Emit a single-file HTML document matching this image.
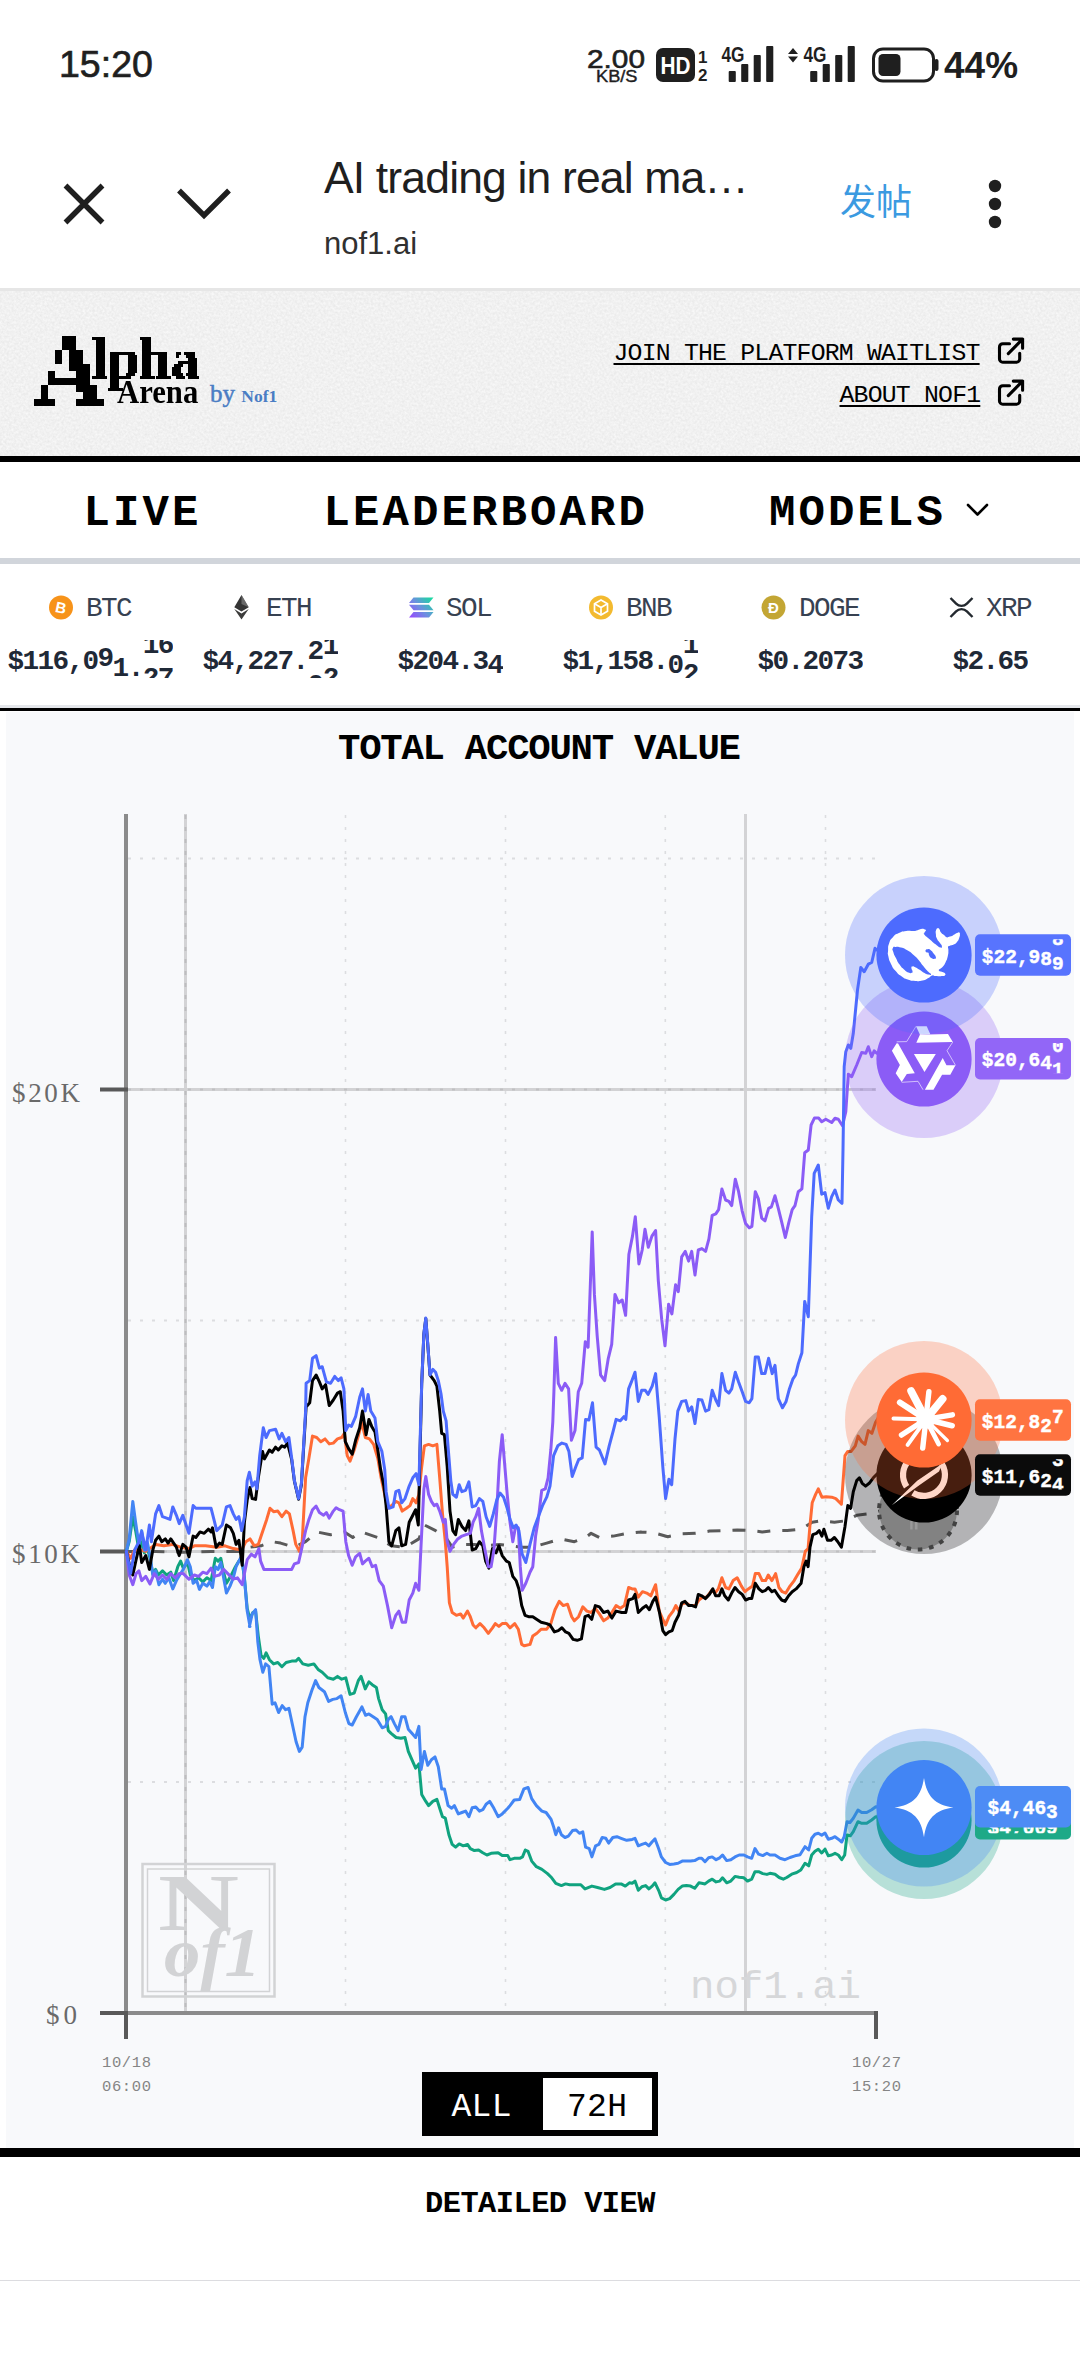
<!DOCTYPE html>
<html lang="en">
<head>
<meta charset="utf-8">
<title>AI trading in real markets</title>
<style>
*{box-sizing:border-box;margin:0;padding:0}
html,body{width:1080px;height:2376px;background:#fff;overflow:hidden}
body{position:relative;font-family:"Liberation Sans","Noto Sans CJK SC",sans-serif;color:#1f1f1f}
.abs{position:absolute}
.mono{font-family:"Liberation Mono","DejaVu Sans Mono",monospace}
.t{position:absolute;white-space:nowrap;line-height:1}
/* status bar */
#time{left:59px;top:46px;font-size:37.5px;color:#1f1f1f;-webkit-text-stroke:.7px #1f1f1f;letter-spacing:0}
#pct{left:944px;top:46.5px;font-size:37px;font-weight:bold;color:#1f1f1f}
/* browser bar */
#title{left:324px;top:155.5px;font-size:44.5px;color:#1f1f1f;letter-spacing:-.85px}
#url{left:324px;top:228px;font-size:31px;color:#303030}
#post{left:840px;top:184.5px;font-size:36px;color:#3b9ae1;font-family:"Liberation Sans","Noto Sans CJK SC",sans-serif}
#sep1{left:0;top:288px;width:1080px;height:3px;background:#e6e6e6}
/* site header */
#hdr{left:0;top:291px;width:1080px;height:165px;background:#fcfcfc}
#hdrline{left:0;top:456px;width:1080px;height:6px;background:#000}
.lnk{font-size:24.8px;letter-spacing:-.8px;color:#000;text-decoration:underline;text-decoration-thickness:2px;text-underline-offset:3px}
/* nav */
.nav{font-size:44px;font-weight:bold;color:#000;letter-spacing:3.1px;top:490.6px}
#navline{left:0;top:558px;width:1080px;height:6px;background:#d1d5db}
/* ticker */
.sym{font-size:27.7px;letter-spacing:-1.6px;color:#374151;top:595.4px}
.px{font-size:27.7px;letter-spacing:-1.6px;font-weight:bold;color:#1f2937}
#tickline{left:0;top:705px;width:1080px;height:6px;background:#000;border-top:3px solid #e5e7eb}
</style>
</head>
<body>
<!-- STATUS BAR -->
<div class="t" id="time">15:20</div>
<div class="t" id="pct">44%</div>
<svg class="abs" style="left:0;top:0" width="1080" height="120" viewBox="0 0 1080 120" font-family="Liberation Sans, sans-serif" fill="#1f1f1f">
<text x="587" y="67.5" font-size="26" textLength="58" lengthAdjust="spacingAndGlyphs" stroke="#1f1f1f" stroke-width=".6">2.00</text>
<text x="596" y="81.5" font-size="16.5" textLength="41.5" lengthAdjust="spacingAndGlyphs" stroke="#1f1f1f" stroke-width=".4">KB/S</text>
<rect x="656" y="48" width="39" height="34" rx="7"/>
<text x="660.5" y="74" font-size="24.5" font-weight="bold" fill="#fff" textLength="30" lengthAdjust="spacingAndGlyphs">HD</text>
<text x="698" y="63" font-size="17" font-weight="bold">1</text>
<text x="698" y="80.5" font-size="17" font-weight="bold">2</text>
<text x="721.5" y="62" font-size="22.5" font-weight="bold" textLength="23" lengthAdjust="spacingAndGlyphs">4G</text>
<rect x="728.7" y="71" width="7.1" height="11" rx="1"/><rect x="741.2" y="64" width="7.1" height="18" rx="1"/><rect x="753.7" y="55" width="7.1" height="27" rx="1"/><rect x="766.2" y="46" width="7.1" height="36" rx="1"/>
<path d="M793,48 l5,6 h-10z M793,62.5 l5,-6 h-10z"/>
<text x="803.5" y="62" font-size="22.5" font-weight="bold" textLength="23" lengthAdjust="spacingAndGlyphs">4G</text>
<rect x="810.2" y="71" width="7.1" height="11" rx="1"/><rect x="822.7" y="64" width="7.1" height="18" rx="1"/><rect x="835.2" y="55" width="7.1" height="27" rx="1"/><rect x="847.7" y="46" width="7.1" height="36" rx="1"/>
<rect x="873.5" y="49" width="60" height="32" rx="9.5" fill="none" stroke="#1f1f1f" stroke-width="3"/>
<rect x="934.5" y="59" width="4" height="12" rx="2"/>
<rect x="878.5" y="54" width="22" height="22" rx="4.5"/>
</svg>
<!-- BROWSER BAR -->
<div class="t" id="title">AI trading in real ma…</div>
<div class="t" id="url">nof1.ai</div>
<div class="t" id="post">发帖</div>
<svg class="abs" style="left:0;top:120px" width="1080" height="168" viewBox="0 120 1080 168" fill="none" stroke="#1f1f1f" stroke-width="5.4">
<path d="M65.5,185.5 L102.5,222.5 M102.5,185.5 L65.5,222.5"/>
<path d="M179,190.5 L204,215.5 L229,190.5"/>
<g fill="#1f1f1f" stroke="none"><circle cx="995" cy="186" r="6.2"/><circle cx="995" cy="204" r="6.2"/><circle cx="995" cy="222" r="6.2"/></g>
</svg>
<div class="abs" id="sep1"></div>
<!-- SITE HEADER -->
<div class="abs" id="hdr"></div>
<svg class="abs" style="left:0;top:291px" width="1080" height="165" viewBox="0 0 1080 165">
<filter id="pixA" x="0" y="0" width="100%" height="100%" color-interpolation-filters="sRGB"><feComponentTransfer in="SourceGraphic" result="s"><feFuncA type="discrete" tableValues="0 1"/></feComponentTransfer><feFlood x="3" y="3" height="1" width="1"/><feComposite width="7" height="7"/><feTile result="a"/><feComposite in="s" in2="a" operator="in"/><feMorphology operator="dilate" radius="3"/></filter>
<filter id="pixB" x="0" y="0" width="100%" height="100%" color-interpolation-filters="sRGB"><feComponentTransfer in="SourceGraphic" result="s"><feFuncA type="discrete" tableValues="0 1"/></feComponentTransfer><feFlood x="1" y="1" height="1" width="1"/><feComposite width="3" height="3"/><feTile result="a"/><feComposite in="s" in2="a" operator="in"/><feMorphology operator="dilate" radius="1"/></filter>
<filter id="noise" x="0" y="0" width="100%" height="100%"><feTurbulence type="fractalNoise" baseFrequency=".42" numOctaves="2" seed="7"/><feColorMatrix type="matrix" values="0 0 0 0 0  0 0 0 0 0  0 0 0 0 0  .09 0 0 0 0"/></filter>
<rect width="1080" height="165" filter="url(#noise)"/></svg>
<div class="t" style="left:34px;top:322px;font-family:'Liberation Serif',serif;font-weight:bold;font-size:97px;color:#000;filter:url(#pixA)">A</div>
<div class="t" style="left:92px;top:327.5px;font-family:'Liberation Serif',serif;font-weight:bold;font-size:60px;color:#000;transform-origin:0 0;transform:scaleX(.945);filter:url(#pixB)">lpha</div>
<div class="t" style="left:117px;top:376px;font-family:'Liberation Serif',serif;font-weight:bold;font-size:33px;color:#000;transform-origin:0 0;transform:scaleX(.93)">Arena</div>
<div class="t" style="left:210px;top:381px;font-family:'Liberation Serif',serif;font-size:25px;color:#4a7dc4;-webkit-text-stroke:.5px #4a7dc4">by <span style="font-size:17.5px;font-weight:bold;-webkit-text-stroke:0">Nof1</span></div>
<svg class="abs" style="left:997px;top:336px" width="30" height="30" viewBox="0 0 30 30" fill="none" stroke="#000" stroke-width="3.1" stroke-linecap="round" stroke-linejoin="round"><path d="M12.5,7.7 H5.8 a3.3,3.3 0 0 0 -3.3,3.3 V22.9 a3.3,3.3 0 0 0 3.3,3.3 H19.4 a3.3,3.3 0 0 0 3.3,-3.3 V17.2 M16.3,3.1 H25.6 V12.2 M25.6,3.1 L11.3,17.6"/></svg>
<svg class="abs" style="left:997px;top:378px" width="30" height="30" viewBox="0 0 30 30" fill="none" stroke="#000" stroke-width="3.1" stroke-linecap="round" stroke-linejoin="round"><path d="M12.5,7.7 H5.8 a3.3,3.3 0 0 0 -3.3,3.3 V22.9 a3.3,3.3 0 0 0 3.3,3.3 H19.4 a3.3,3.3 0 0 0 3.3,-3.3 V17.2 M16.3,3.1 H25.6 V12.2 M25.6,3.1 L11.3,17.6"/></svg>
<svg class="abs" style="left:964px;top:498px" width="28" height="24" viewBox="0 0 28 24" fill="none" stroke="#000" stroke-width="2.6" stroke-linecap="round" stroke-linejoin="round"><path d="M4,7 L13.5,16.5 L23,7"/></svg>
<div class="t mono lnk" style="left:613.5px;top:341px">JOIN THE PLATFORM WAITLIST</div>
<div class="t mono lnk" style="left:839.5px;top:383px">ABOUT NOF1</div>
<div class="abs" id="hdrline"></div>
<!-- NAV -->
<div class="t mono nav" style="left:83.5px">LIVE</div>
<div class="t mono nav" style="left:323.5px">LEADERBOARD</div>
<div class="t mono nav" style="left:769px">MODELS</div>
<div class="abs" id="navline"></div>
<!-- TICKER -->
<svg class="abs" style="left:0;top:590px" width="1080" height="36" viewBox="0 590 1080 36"><circle cx="61" cy="607.5" r="12" fill="#f7931a"/><text x="61" y="613.0" font-size="15" font-weight="bold" fill="#fff" text-anchor="middle" font-family="Liberation Sans, sans-serif" transform="rotate(12 61 607.5)">B</text><path d="M241.5,595.0 l7.2,12.2 l-7.2,4.3 l-7.2,-4.3z" fill="#343434"/><path d="M241.5,595.0 l7.2,12.2 l-7.2,-3.2z" fill="#8c8c8c" opacity=".6"/><path d="M234.3,609.1 l7.2,4.3 l7.2,-4.3 l-7.2,10.4z" fill="#3c3c3b"/><defs><linearGradient id="solg" gradientUnits="userSpaceOnUse" x1="409.0" y1="617.5" x2="431.0" y2="597.5"><stop offset="0" stop-color="#9945ff"/><stop offset=".5" stop-color="#6d8fe0"/><stop offset="1" stop-color="#19d9a0"/></linearGradient></defs><g fill="url(#solg)"><path d="M413.5,597.5 h20 l-4.5,5.6 h-20z"/><path d="M409.0,604.7 h20 l4.5,5.6 h-20z"/><path d="M413.5,611.9 h20 l-4.5,5.6 h-20z"/></g><circle cx="601" cy="607.5" r="12" fill="#f3ba2f"/><g fill="none" stroke="#fff" stroke-width="1.7"><path d="M601,600.0 l6.5,3.7 v7.6 l-6.5,3.7 l-6.5,-3.7 v-7.6z"/><path d="M594.5,603.7 l6.5,3.8 l6.5,-3.8 M601,607.5 v7.5"/></g><circle cx="773.5" cy="607.5" r="12" fill="#c3a634"/><text x="773.5" y="613.0" font-size="15" font-weight="bold" fill="#fff" text-anchor="middle" font-family="Liberation Sans, sans-serif">Ð</text><g fill="none" stroke="#23292f" stroke-width="2.4"><path d="M950.5,598.0 l5.6,5.6 a7.6,7.6 0 0 0 10.8,0 l5.6,-5.6"/><path d="M950.5,617.0 l5.6,-5.6 a7.6,7.6 0 0 1 10.8,0 l5.6,5.6"/></g></svg><div class="t mono sym" style="left:86px">BTC</div><div class="t mono sym" style="left:266px">ETH</div><div class="t mono sym" style="left:446px">SOL</div><div class="t mono sym" style="left:626px">BNB</div><div class="t mono sym" style="left:799px">DOGE</div><div class="t mono sym" style="left:986px">XRP</div><div class="t mono px" style="left:7.5px;top:640px;height:38px;overflow:hidden;line-height:44px">$116,0<span style="display:inline-block;transform:translateY(-3.5px)">9</span><span style="display:inline-block;transform:translateY(6.5px)">1</span><span style="display:inline-block;transform:translateY(6.5px)">.</span><span style="display:inline-block;position:relative;transform:translateY(-16.5px)">1<span style="position:absolute;left:0;top:33px">2</span></span><span style="display:inline-block;position:relative;transform:translateY(-16.5px)">6<span style="position:absolute;left:0;top:33px">7</span></span></div><div class="t mono px" style="left:202.5px;top:640px;height:38px;overflow:hidden;line-height:44px">$4,227.<span style="display:inline-block;position:relative;transform:translateY(-10.5px)">2<span style="position:absolute;left:0;top:33.5px">0</span></span><span style="display:inline-block;position:relative;transform:translateY(-15px)">1<span style="position:absolute;left:0;top:32px">2</span></span></div><div class="t mono px" style="left:397.5px;top:640px;height:38px;overflow:hidden;line-height:44px">$204.3<span style="display:inline-block;transform:translateY(4px)">4</span></div><div class="t mono px" style="left:562.5px;top:640px;height:38px;overflow:hidden;line-height:44px">$1,158.<span style="display:inline-block;transform:translateY(4px)">0</span><span style="display:inline-block;position:relative;transform:translateY(-16px)">1<span style="position:absolute;left:0;top:28.5px">2</span></span></div><div class="t mono px" style="left:757.5px;top:640px;height:38px;overflow:hidden;line-height:44px">$0.2073</div><div class="t mono px" style="left:952.5px;top:640px;height:38px;overflow:hidden;line-height:44px">$2.65</div>
<div class="abs" id="tickline"></div>
<svg class="abs" style="left:0;top:710px" width="1080" height="1438" viewBox="0 710 1080 1438" font-family="Liberation Mono, monospace">
<rect x="6" y="712" width="1068" height="1436" fill="#f8f9fb"/>
<g stroke="#dcdde0" fill="none"><path d="M345.5,815 V2011" stroke-width="1.6" stroke-dasharray="3 9"/><path d="M505.5,815 V2011" stroke-width="1.6" stroke-dasharray="3 9"/><path d="M665.3,815 V2011" stroke-width="1.6" stroke-dasharray="3 9"/><path d="M825.5,815 V2011" stroke-width="1.6" stroke-dasharray="3 9"/><path d="M128,858.5 H876" stroke-width="2" stroke-dasharray="3 9"/><path d="M128,1320.4 H876" stroke-width="2" stroke-dasharray="3 9"/><path d="M128,1782.1 H876" stroke-width="2" stroke-dasharray="3 9"/></g>
<g stroke="#d3d3d5" stroke-width="3"><path d="M185.5,814 V2012"/><path d="M745.5,814 V2012"/></g>
<path d="M185.5,815 V2014" stroke="#bdbdbf" stroke-width="2" stroke-dasharray="4 8"/>
<g stroke="#d2d2d4" stroke-width="3"><path d="M128,1089.5 H876"/><path d="M128,1551.5 H876"/></g>
<g stroke="#c0c0c2" stroke-width="2" stroke-dasharray="3 9"><path d="M128,1089.5 H876"/><path d="M128,1551.5 H876"/></g>
<g fill="none" stroke="#d2d3d5"><rect x="142.5" y="1864" width="132" height="132.5" stroke-width="2.5"/><rect x="147.5" y="1869" width="122" height="122.5" stroke-width="1.5"/></g>
<g fill="#d2d3d5" font-family="Liberation Serif, serif"><text x="158" y="1930" font-size="80" font-weight="bold" textLength="81" lengthAdjust="spacingAndGlyphs">N</text><text x="164" y="1975.5" font-size="70" font-style="italic" font-weight="bold" textLength="97" lengthAdjust="spacingAndGlyphs">of1</text></g>
<text x="690" y="1998" font-size="39" fill="#d6d7d9" font-family="Liberation Mono, monospace" textLength="171" lengthAdjust="spacingAndGlyphs">nof1.ai</text>
<g stroke="#8b8b8b" stroke-width="4" fill="none"><path d="M126,814 V2013"/><path d="M126,2013 H876"/></g>
<g stroke="#595959" stroke-width="4" fill="none"><path d="M100,1089.5 H128"/><path d="M100,1551.5 H128"/><path d="M100,2013 H128"/><path d="M126,2011 V2039"/><path d="M876,2011 V2039"/></g>
<g fill="#6a6a6a" font-family="Liberation Serif, serif" font-size="27">
<text x="12" y="1102" textLength="68" lengthAdjust="spacing">$20K</text>
<text x="12" y="1563" textLength="68" lengthAdjust="spacing">$10K</text>
<text x="46" y="2024" textLength="31" lengthAdjust="spacing">$0</text></g>
<g fill="#858585" font-family="Liberation Mono, monospace" font-size="15.5">
<text x="102" y="2067" textLength="49" lengthAdjust="spacing">10/18</text><text x="102" y="2091" textLength="49" lengthAdjust="spacing">06:00</text>
<text x="852" y="2067" textLength="49" lengthAdjust="spacing">10/27</text><text x="852" y="2091" textLength="49" lengthAdjust="spacing">15:20</text></g>
<text x="539.5" y="759" font-size="37.3" font-weight="bold" fill="#000" text-anchor="middle" textLength="403" lengthAdjust="spacing">TOTAL ACCOUNT VALUE</text>
<path d="M126.4,1551.4 L155.6,1551.4 L183.3,1552.2 L211.1,1551.4 L238.9,1551.4 L250,1547.2 L261.1,1545.8 L272.2,1541.7 L280.6,1543.1 L294.4,1547.2 L305.6,1541.7 L316.7,1531.9 L330.6,1534.7 L344.4,1531.9 L352.8,1537.5 L361.1,1531.9 L377.8,1537.5 L391.1,1545.8 L405,1547.2 L418.9,1538.9 L424.4,1525 L435.6,1530.6 L446.7,1538.9 L452.2,1547.2 L463.3,1544.4 L474.4,1544.4 L485.6,1545.8 L499.4,1544.4 L510.6,1545.8 L521.7,1547.2 L532.8,1547.2 L546.7,1543.1 L560.6,1538.9 L574.4,1541.7 L585.6,1537.5 L591.1,1533.3 L599.4,1537.5 L613.3,1536.1 L627.2,1533.3 L641.1,1531.9 L640,1531.9 L653.9,1532.8 L667.8,1536.7 L681.7,1533.9 L695.6,1533.3 L709.4,1531.1 L723.3,1530.6 L737.2,1530 L751.1,1530.6 L762.2,1531.9 L773.3,1530.6 L787.2,1530.6 L801.1,1529.2 L812.2,1522.2 L820.6,1520.8 L834.4,1522.2 L845.6,1520.8 L856.7,1515.3 L867.8,1513.9 L878.9,1511.1 L915,1511.1" fill="none" stroke="#5a5a5a" stroke-width="3" stroke-dasharray="13 12" stroke-linejoin="round"/>
<path d="M126.4,1551.4 L129.2,1541.7 L132.8,1516.7 L135.6,1530.6 L138.9,1550 L141.7,1541.7 L144.4,1552.8 L147.2,1547.2 L150,1558.3 L152.8,1573.6 L155.6,1569.4 L158.3,1575 L162.5,1570.8 L166.7,1575 L170.8,1572.2 L173.6,1580.6 L177.8,1566.7 L180.6,1561.1 L183.3,1568.1 L187.5,1562.5 L190.3,1575 L194.4,1580.6 L198.6,1577.8 L202.8,1581.9 L206.9,1577.8 L211.1,1580.6 L215.3,1558.3 L218.1,1561.1 L220.8,1558.3 L223.6,1572.2 L226.4,1583.3 L230.6,1576.4 L234.7,1568.1 L238.9,1561.1 L241.7,1558.3 L244.4,1577.8 L247.2,1608.3 L250,1619.4 L252.8,1612.5 L255.6,1611.1 L258.3,1636.1 L261.1,1655.6 L263.9,1658.3 L266.1,1652.8 L269.4,1659.7 L273.6,1663.9 L277.8,1662.5 L281.9,1666.7 L286.1,1662.5 L291.7,1661.1 L295.8,1661.1 L298.6,1658.3 L302.8,1663.9 L308.3,1665.3 L313.9,1663.9 L318.1,1669.4 L322.2,1672.2 L327.8,1677.8 L333.3,1679.2 L337.5,1676.4 L341.7,1679.2 L345.8,1677.8 L350,1694.4 L354.2,1693.1 L358.3,1680.6 L361.1,1676.4 L365.3,1688.9 L368.9,1681.9 L372.2,1684.7 L376.4,1687.5 L378.6,1698.6 L382.2,1709.7 L385.6,1713.9 L388.3,1730.6 L391.1,1733.3 L396.1,1737.5 L400.8,1738.3 L405,1737.5 L408.3,1751.4 L411.9,1759.7 L415.6,1768.1 L418.9,1763.9 L421.7,1794.4 L425.8,1801.4 L428.6,1805.6 L432.8,1801.4 L436.9,1799.4 L439.7,1808.3 L442.5,1816.7 L445.3,1818.1 L448.9,1834.7 L452.2,1844.4 L455.6,1847.2 L459.2,1843.9 L463.3,1845.8 L467.5,1844.4 L470.3,1848.6 L474.4,1850.6 L478.6,1850 L482.8,1852.8 L486.9,1855 L491.1,1853.3 L498.1,1852.8 L502.2,1855.6 L507.8,1855.6 L510,1859.7 L514.2,1858.3 L519.7,1858.3 L522.5,1856.9 L525.3,1850 L528.1,1851.4 L531.7,1861.1 L536.4,1866.7 L541.9,1869.4 L547.5,1873.6 L551.7,1877.8 L555.8,1883.3 L561.4,1885.6 L565.6,1883.9 L569.7,1884.7 L575.3,1884.7 L580.8,1884.7 L585,1888.9 L591.9,1886.1 L597.5,1887.5 L604.4,1889.4 L610,1887.5 L615.6,1883.9 L621.1,1883.9 L625.3,1886.1 L629.4,1882.8 L632.2,1883.3 L635,1881.1 L638.3,1890.3 L641.9,1886.7 L645.6,1885.6 L648.9,1888.9 L652.2,1886.1 L655,1882.8 L658.6,1890.3 L661.4,1897.8 L665.6,1900 L669.7,1898.6 L673.9,1894.4 L678.1,1889.4 L682.2,1886.1 L686.4,1885.6 L690.6,1886.1 L694.7,1888.3 L698.9,1882.8 L701.7,1883.3 L705,1883.9 L708.6,1881.1 L712.2,1879.2 L716.1,1881.9 L719.7,1881.1 L722.5,1877.8 L726.7,1882.8 L730.8,1881.1 L735,1876.4 L739.2,1877.2 L743.9,1877.8 L747.5,1881.1 L751.7,1879.2 L755,1871.7 L758.6,1871.7 L762.8,1873.6 L766.9,1874.4 L770,1873.3 L775,1874.2 L779.2,1877.5 L783.3,1879.2 L786.7,1877.5 L791.7,1874.2 L796.7,1872.5 L800.8,1870 L805,1863.3 L808.7,1865.8 L811.7,1855 L815,1851.3 L818.3,1849.2 L821.7,1853 L825,1849.2 L828.3,1855.8 L831.7,1855 L835,1853.3 L838.3,1855 L841.7,1859.7 L844.7,1855 L847,1835 L850.3,1835.8 L853.3,1831.7 L858,1821.7 L861.7,1823.3 L866.7,1823.3 L871.7,1820 L875.8,1816.7 L924,1820" fill="none" stroke="#10a37f" stroke-width="3" stroke-linejoin="round" stroke-linecap="round"/>
<path d="M126.4,1551.4 L130.6,1558.3 L134.7,1550 L141.7,1550 L145.8,1551.4 L155.6,1544.4 L163.9,1545.8 L172.2,1544.4 L180.6,1547.2 L188.9,1548.6 L194.4,1545.8 L205.6,1545.8 L216.7,1547.2 L225,1545.8 L233.3,1548.6 L241.7,1550 L245.8,1541.7 L250,1538.9 L254.2,1545.8 L258.3,1544.4 L261.1,1536.1 L266.7,1519.4 L270,1508.3 L273.6,1511.7 L277.8,1511.1 L281.9,1516.7 L286.1,1511.1 L289.4,1513.9 L293.1,1530.6 L295.8,1544.4 L299.4,1551.4 L302.2,1541.7 L305.6,1477.8 L308.9,1458.3 L312.5,1436.1 L316.7,1437.5 L320.8,1441.7 L325,1438.9 L329.2,1443.9 L333.3,1443.1 L337.5,1438.9 L341.7,1437.5 L344.4,1433.3 L347.2,1455.6 L350,1461.1 L354.2,1450 L358.3,1436.1 L361.7,1422.2 L365.3,1437.5 L369.4,1438.9 L373.6,1444.4 L377.8,1458.3 L381.1,1477.8 L384.7,1494.4 L387.5,1508.3 L391.7,1505.6 L395.8,1501.4 L398.9,1502.8 L402.2,1511.1 L406.4,1508.3 L410,1505.6 L412.8,1498.6 L416.1,1502.8 L418.9,1494.4 L421.7,1466.7 L424.4,1445.8 L428.6,1444.4 L432.8,1445.8 L436.9,1444.4 L439.7,1477.8 L442.5,1513.9 L445.3,1541.7 L447.2,1566.7 L449.4,1602.8 L452.2,1612.5 L456.4,1615.3 L460.6,1613.9 L463.3,1618.1 L467.5,1611.1 L470.3,1616.7 L473.1,1625 L475.8,1627.8 L480,1623.6 L484.2,1627.8 L488.3,1633.3 L492.5,1627.8 L495.3,1623.6 L498.9,1626.4 L502.2,1623.6 L506.4,1623.6 L510,1627.8 L514.7,1623.6 L518.3,1629.2 L521.7,1644.4 L524.4,1645.8 L530,1644.4 L532.8,1636.1 L536.9,1633.3 L541.1,1629.2 L546.7,1629.2 L550.8,1623.6 L555,1609.7 L559.2,1601.4 L563.3,1605.6 L567.5,1604.2 L571.7,1616.7 L574.4,1620.8 L578.6,1616.7 L582.8,1606.9 L586.9,1611.1 L591.1,1612.5 L595.3,1608.3 L599.4,1613.9 L603.6,1620.8 L607.8,1618.1 L611.9,1612.5 L616.1,1605.6 L620.3,1608.3 L624.4,1605.6 L628.6,1587.5 L632.2,1588.9 L635,1588.9 L638.3,1597.2 L642.5,1591.7 L646.7,1593.1 L650.8,1595.8 L655.6,1584.7 L659.2,1611.1 L662.8,1619.4 L665.6,1625 L668.9,1616.7 L673.1,1611.1 L675.8,1605.6 L678.9,1611.1 L681.7,1604.2 L685.8,1602.8 L690,1605.6 L695.6,1605.6 L698.9,1600 L702.5,1597.2 L706.7,1597.2 L711.7,1590.3 L715,1593.1 L718.3,1588.9 L721.9,1577.8 L725.6,1587.5 L728.9,1588.9 L733.1,1580.6 L737.2,1577.8 L741.4,1586.1 L745,1591.7 L748.3,1588.9 L752.5,1586.1 L755.3,1573.6 L758.9,1573.6 L762.2,1580.6 L765.6,1580.6 L768.3,1575 L771.9,1580.6 L775.6,1573.6 L778.9,1587.5 L782.2,1591.7 L785.8,1593.1 L790,1586.1 L794.2,1580.6 L798.3,1573.6 L801.7,1568.1 L805.3,1551.4 L808.1,1548.6 L810,1525 L812.2,1502.8 L815.6,1494.4 L818.3,1488.9 L821.9,1497.2 L826.1,1496.7 L831.7,1497.2 L835.8,1498.6 L841.4,1504.2 L845,1455.6 L847.8,1451.4 L851.1,1451.4 L855.3,1445.8 L858.1,1436.1 L861.7,1441.7 L865,1444.4 L868.3,1430.6 L871.9,1433.3 L875.6,1422.2 L878.9,1416.7 L923.9,1420" fill="none" stroke="#ff6b35" stroke-width="3" stroke-linejoin="round" stroke-linecap="round"/>
<path d="M126.4,1551.4 L129.2,1538.9 L132.8,1501.4 L135.6,1522.2 L138.9,1544.4 L141.7,1530.6 L144.4,1550 L147.2,1541.7 L150,1555.6 L152.8,1575 L155.6,1570.8 L158.9,1584.7 L162.5,1579.2 L165.3,1583.3 L168.9,1577.8 L172.8,1588.9 L176.4,1580.6 L180.6,1573.6 L183.3,1569.4 L187.5,1559.7 L190.3,1566.7 L193.1,1583.3 L196.7,1580.6 L199.4,1589.4 L202.8,1583.3 L206.9,1586.1 L209.7,1581.9 L212.5,1587.5 L215.3,1566.7 L218.1,1569.4 L220.8,1562.5 L223.6,1577.8 L226.4,1593.1 L230,1586.1 L233.3,1577.8 L236.1,1566.7 L238.9,1561.1 L241.7,1555.6 L244.4,1577.8 L247.2,1611.1 L250,1626.4 L249.4,1626.4 L252.2,1613.9 L255.6,1609.7 L257.8,1641.7 L260,1659.7 L262.8,1672.2 L265.6,1663.9 L268.9,1666.7 L272.2,1704.2 L275,1702.8 L278.6,1712.5 L282.2,1705.6 L285.6,1709.7 L288.9,1708.3 L292.5,1725 L296.1,1741.7 L299.4,1751.4 L302.2,1747.2 L305,1716.7 L307.8,1702.8 L311.9,1690.3 L315.6,1680.6 L318.9,1687.5 L324.4,1691.7 L328.6,1701.4 L332.8,1699.4 L336.9,1698.6 L341.1,1695.8 L345.3,1712.5 L348.9,1723.6 L352.2,1725 L356.4,1716.7 L361.9,1706.9 L365.6,1715.3 L368.9,1713.9 L373.1,1716.7 L377.2,1719.4 L382.2,1727.8 L385.6,1726.4 L388.3,1719.4 L391.1,1716.7 L394.4,1723.6 L398.1,1730.6 L401.7,1716.7 L405,1716.7 L408.3,1729.2 L411.9,1733.3 L415.6,1737.5 L418.9,1726.4 L421.1,1769.4 L424.4,1751.4 L427.8,1765.3 L431.4,1759.7 L435,1756.9 L438.3,1766.7 L441.7,1788.9 L444.4,1788.9 L448.1,1805.6 L451.7,1808.3 L454.4,1805.6 L458.3,1813.9 L461.9,1812.5 L465.6,1811.1 L468.9,1816.7 L472.2,1807.8 L475.8,1806.9 L479.4,1811.1 L482.8,1809.7 L486.1,1804.2 L489.7,1801.4 L493.9,1808.3 L498.1,1816.7 L502.2,1813.9 L507.8,1808.3 L510,1805.6 L514.2,1800 L519.7,1799.4 L523.9,1788.9 L528.1,1787.5 L531.7,1798.6 L536.4,1805.6 L541.9,1811.1 L546.1,1812.5 L551.1,1819.4 L553.9,1827.8 L555.8,1834.7 L558.6,1827.8 L561.4,1834.7 L565,1837.5 L568.3,1836.1 L572.5,1830.6 L576.1,1830 L579.4,1833.3 L582.8,1831.9 L585.6,1847.2 L589.2,1848.6 L591.9,1856.9 L595.6,1845.8 L598.9,1844.4 L602.2,1837.5 L605.8,1838.3 L608.6,1843.1 L612.8,1837.5 L616.9,1836.7 L621.1,1838.3 L626.7,1840.3 L632.2,1839.4 L635,1838.3 L638.3,1845.8 L641.9,1844.4 L645.6,1843.1 L648.9,1845.8 L652.2,1841.7 L655,1838.9 L658.6,1848.6 L661.4,1856.9 L665.6,1862.5 L669.7,1864.4 L673.9,1863.9 L678.1,1863.3 L682.2,1861.1 L686.4,1861.1 L690.6,1861.1 L694.7,1860.6 L698.9,1858.3 L701.7,1858.3 L705,1861.7 L708.6,1857.8 L712.2,1856.9 L716.1,1859.7 L719.7,1857.8 L722.5,1855 L726.7,1860.6 L730.8,1859.7 L735,1856.9 L739.2,1855 L743.9,1855 L747.5,1856.9 L751.7,1858.3 L755,1848.6 L758.6,1854.2 L762.8,1855.6 L766.9,1853.3 L770,1855 L775,1855 L780,1858.3 L785,1859.7 L790,1857.5 L795,1855.8 L800,1854.7 L805,1846.7 L808.7,1850 L811.7,1838.3 L815,1834.2 L818.3,1833.3 L821.7,1835.3 L825,1833 L828.3,1839.2 L831.7,1838.3 L835,1836.7 L838.3,1839.2 L841.7,1842 L844.2,1836.7 L847,1821.7 L850,1822.5 L853.3,1818.3 L858,1810 L861.7,1812.5 L866.7,1812.5 L871.7,1809.7 L875.8,1806.7 L924,1808" fill="none" stroke="#4285f4" stroke-width="3" stroke-linejoin="round" stroke-linecap="round"/>
<path d="M126.4,1551.4 L129.2,1563.9 L132.8,1575 L136.1,1559.7 L139.4,1545.8 L141.7,1562.5 L145.8,1555.6 L149.4,1569.4 L152.8,1550 L155.6,1540.3 L158.9,1536.1 L161.7,1541.7 L165.3,1538.9 L168.1,1543.1 L170.8,1538.9 L173.6,1543.1 L176.4,1547.2 L179.2,1555.6 L182.8,1544.4 L186.1,1547.2 L188.9,1556.9 L193.1,1536.1 L195.8,1537.5 L200,1531.9 L204.2,1533.3 L208.3,1529.2 L211.1,1531.9 L212.5,1527.8 L216.1,1547.2 L219.4,1543.1 L222.2,1544.4 L226.4,1525 L230.6,1527.8 L233.3,1533.3 L236.1,1544.4 L238.9,1540.3 L242.2,1565.3 L244.4,1522.2 L247.2,1500 L250,1487.5 L252.2,1498.6 L255.6,1499.4 L258.3,1477.8 L262.5,1451.4 L264.4,1458.9 L269.4,1450 L272.2,1452.2 L275.6,1447.2 L278.3,1450 L281.9,1445.8 L284.7,1447.2 L287.5,1443.1 L291.7,1459.7 L294.4,1481.1 L298.6,1499.2 L301.4,1484.7 L306.1,1406.9 L309.7,1402.8 L312.5,1380.6 L316.1,1375 L319.4,1381.9 L322.2,1388.9 L325.6,1384.7 L329.2,1405.6 L333.3,1400 L337.5,1393.1 L340.3,1391.7 L343.1,1411.1 L345.3,1441.7 L348.6,1448.6 L352.2,1454.2 L355.6,1440.3 L359.7,1427.8 L362.5,1411.1 L366.1,1434.7 L368.9,1419.4 L371.7,1426.4 L375,1431.9 L377.8,1450 L380.6,1469.4 L383.9,1486.1 L386.1,1505.6 L388.9,1541.7 L391.7,1545.8 L395.8,1530.6 L398.9,1527.8 L401.7,1545.8 L405.6,1544.4 L409.2,1522.2 L412.8,1515.3 L415.6,1509.7 L418.3,1525 L421.7,1383.9 L423.9,1333.9 L425.8,1318.6 L427.8,1345 L430,1375 L434.2,1380.6 L436.9,1386.1 L439.7,1411.1 L441.7,1433.3 L444.4,1434.7 L447.2,1466.7 L450,1511.1 L452.8,1530.6 L455.6,1534.7 L458.3,1519.4 L461.9,1526.4 L465.6,1530.6 L468.9,1520.8 L472.2,1550 L475.8,1548.6 L479.4,1541.7 L482.8,1545.8 L485.6,1561.1 L488.9,1568.1 L492.5,1548.6 L496.1,1552.8 L498.9,1545.8 L502.2,1555.6 L506.4,1561.1 L509.2,1562.5 L512.8,1576.4 L516.1,1580.6 L518.9,1588.9 L521.7,1605.6 L525,1615.3 L528.6,1616.7 L532.8,1616.7 L536.9,1619.4 L541.1,1622.2 L546.7,1623.6 L550,1625 L554.4,1631.9 L558.3,1630.6 L561.9,1627.8 L565.6,1631.9 L568.9,1633.3 L573.1,1639.4 L577.2,1640.3 L581.4,1638.9 L585,1616.7 L588.3,1615.3 L591.7,1619.4 L595.3,1605.6 L599.4,1606.9 L603.6,1612.5 L607.8,1611.1 L611.9,1618.1 L616.1,1611.1 L621.7,1612.5 L625.8,1612.5 L628.6,1600 L632.8,1598.6 L635,1594.4 L638.3,1612.5 L642.5,1608.3 L646.1,1605.6 L649.4,1609.7 L652.8,1601.4 L655.6,1597.2 L659.2,1611.1 L662.8,1630.6 L665.6,1634.7 L668.9,1631.9 L672.2,1630.6 L675,1622.2 L678.6,1615.3 L681.7,1602.8 L685,1601.4 L688.6,1605.6 L692.2,1605.6 L695.6,1606.9 L698.3,1594.4 L701.7,1595.8 L705.3,1598.6 L709.4,1594.4 L712.8,1588.9 L715.6,1595.8 L719.2,1595.8 L721.9,1588.9 L724.7,1595.8 L728.3,1600 L731.7,1593.1 L735,1587.5 L738.6,1591.7 L742.2,1594.4 L745.6,1600 L748.9,1598.6 L751.7,1598.6 L755.3,1583.3 L758.9,1588.9 L762.2,1591.7 L765.6,1590.3 L768.3,1587.5 L771.9,1591.7 L774.7,1590.3 L778.3,1595.8 L781.7,1600 L785,1601.4 L788.6,1595.8 L792.2,1591.7 L796.1,1588.9 L801.1,1583.3 L803.9,1566.7 L806.1,1561.1 L808.1,1566.7 L810,1547.2 L812.8,1534.7 L816.4,1533.3 L819.2,1530.6 L821.9,1536.1 L823.9,1529.2 L827.5,1540.3 L831.1,1540.3 L834.4,1537.5 L837.8,1541.7 L841.4,1547.2 L845,1526.4 L847.8,1505.6 L850.6,1508.3 L853.3,1491.7 L856.7,1480.6 L859.4,1477.8 L862.2,1483.3 L865.6,1486.1 L869.2,1483.3 L873.3,1477.8 L877.5,1473.6 L923.9,1473.6" fill="none" stroke="#000000" stroke-width="3" stroke-linejoin="round" stroke-linecap="round"/>
<path d="M126.4,1551.4 L129.2,1575 L132.8,1584.7 L136.1,1573.6 L138.9,1570.8 L141.7,1580.6 L145.8,1576.4 L150,1583.9 L154.2,1573.6 L158.3,1579.2 L162.5,1575 L166.7,1579.2 L170.8,1573.6 L175,1577.8 L179.2,1573.6 L183.3,1573.6 L188.9,1579.2 L194.4,1575 L198.6,1576.4 L202.8,1572.2 L206.9,1573.6 L211.1,1568.1 L214.4,1576.4 L219.4,1575 L223.6,1569.4 L227.8,1573.6 L233.3,1579.2 L237.5,1577.8 L242.2,1584.7 L244.4,1573.6 L247.2,1559.7 L251.4,1554.2 L255,1556.9 L258.9,1548.6 L260.6,1561.1 L263.9,1569.4 L291.7,1569.4 L294.4,1563.9 L298.6,1562.5 L301.4,1550 L305.6,1530.6 L308.9,1519.4 L312.5,1509.7 L316.1,1506.1 L319.4,1512.5 L323.6,1515.3 L326.4,1512.5 L329.2,1518.1 L333.3,1511.1 L336.1,1507.8 L339.4,1509.7 L343.1,1511.1 L345.8,1541.7 L348.6,1555.6 L352.2,1565.3 L355.6,1556.9 L359.7,1553.3 L362.5,1563.9 L365.3,1561.1 L368.9,1558.3 L372.2,1566.7 L375.6,1565.3 L379.2,1580.6 L383.3,1586.1 L387.5,1605.6 L391.7,1627.8 L395.8,1615.3 L398.9,1611.1 L402.2,1622.2 L405.6,1622.2 L409.2,1600 L412.8,1593.1 L415.6,1583.3 L418.9,1590.3 L421.1,1544.4 L423.9,1488.9 L425.8,1476.4 L428.6,1494.4 L431.4,1501.4 L434.2,1505.6 L436.9,1504.2 L439.7,1511.1 L443.3,1522.2 L445.3,1519.4 L447.2,1541.7 L450,1551.4 L453.6,1544.4 L457.8,1538.9 L461.9,1536.1 L466.1,1534.7 L470.3,1533.3 L473.1,1522.2 L475.8,1516.7 L478.6,1508.3 L481.4,1530.6 L485,1550 L488.3,1566.7 L491.1,1566.7 L493.9,1550 L496.7,1511.1 L499.4,1461.1 L502.2,1434.7 L504.4,1461.1 L507.2,1494.4 L510,1522.2 L512.8,1541.7 L515.6,1526.4 L518.3,1527.8 L520.3,1566.7 L522.2,1590.3 L525.8,1583.3 L530,1572.2 L532.8,1566.7 L535.6,1536.1 L538.3,1519.4 L541.7,1490.3 L545.3,1488.9 L548.1,1477.8 L550.8,1450 L552.8,1422.2 L553.9,1391.7 L555.6,1337.5 L558.3,1383.3 L561.7,1390.3 L565,1383.3 L568.6,1388.9 L571.4,1440.3 L575,1430.6 L578.3,1391.7 L581.7,1383.3 L585.3,1341.7 L588.1,1347.2 L590,1294.4 L592.2,1231.9 L594.4,1294.4 L597.2,1336.1 L600.6,1375 L604.7,1380.6 L608.3,1358.3 L611.7,1344.4 L615,1294.4 L618.6,1302.8 L622.2,1300 L625.6,1315.3 L628.9,1254.2 L632.5,1236.1 L635.3,1216.7 L638.9,1263.9 L642.2,1250 L645,1229.2 L648.3,1247.2 L651.9,1236.1 L655.6,1230.6 L658.3,1280.6 L661.7,1319.4 L665,1345.8 L668.6,1304.2 L671.9,1313.9 L675.6,1284.7 L678.3,1291.7 L681.7,1256.9 L685.3,1251.4 L688.6,1261.1 L691.7,1251.4 L695,1275 L698.3,1250 L701.9,1248.6 L705.6,1251.4 L708.9,1238.9 L712.2,1215.3 L715.8,1213.9 L718.6,1209.7 L721.9,1188.9 L725.6,1200 L728.9,1201.4 L731.7,1205.6 L735.3,1179.2 L738.6,1191.7 L742.2,1211.1 L745.6,1223.6 L749.2,1227.8 L751.9,1226.4 L755.3,1191.7 L758.3,1198.6 L761.7,1218.1 L765,1220.8 L768.6,1208.3 L771.4,1206.9 L775,1195.8 L778.3,1208.3 L781.7,1222.2 L785.3,1237.5 L788.9,1222.2 L792.2,1209.7 L795,1205.6 L798.3,1191.7 L801.9,1188.9 L804.7,1152.8 L808.3,1150 L811.1,1125 L814.4,1118.1 L818.6,1118.1 L821.7,1121.7 L825.8,1119.2 L831.7,1122.5 L835,1118.3 L838.3,1119.2 L842.5,1125.8 L845.8,1111.7 L848.3,1074.2 L851.7,1076.7 L856.7,1065 L861.7,1052.5 L865.8,1053.3 L868.3,1046.7 L871.7,1056.7 L874.2,1050.8 L876.7,1053.3 L924,1057" fill="none" stroke="#8b5cf6" stroke-width="3" stroke-linejoin="round" stroke-linecap="round"/>
<path d="M126.4,1551.4 L130.6,1573.6 L134.7,1550 L138.9,1541.7 L141.7,1531.9 L145.8,1550 L149.4,1525 L151.4,1541.7 L155.6,1513.9 L158.9,1505.6 L162.5,1516.7 L166.7,1518.1 L170,1519.4 L172.8,1506.9 L176.4,1515.3 L179.2,1523.6 L182.8,1515.3 L186.1,1525 L188.9,1533.3 L193.1,1505.6 L195.8,1508.3 L211.1,1508.3 L213.9,1519.4 L216.7,1530.6 L222.2,1525 L226.4,1506.9 L230,1505.6 L233.3,1513.9 L236.1,1519.4 L238.9,1516.7 L241.7,1530.6 L244.4,1516.7 L247.2,1480.6 L249.4,1472.2 L252.2,1486.1 L255,1481.9 L256.9,1488.9 L259.7,1455.6 L263.3,1427.8 L266.1,1437.5 L269.4,1430.6 L275.6,1429.2 L279.2,1438.9 L281.9,1433.3 L285.6,1441.7 L288.9,1437.5 L291.7,1458.3 L294.4,1480.6 L298.6,1498.6 L301.4,1483.3 L305.6,1411.1 L306.1,1383.3 L309.7,1380.6 L312.5,1358.3 L316.1,1355.6 L319.4,1368.1 L322.2,1366.7 L326.4,1381.9 L330.6,1383.3 L334.7,1376.4 L338.3,1380.6 L341.1,1377.8 L343.9,1388.9 L345.8,1430.6 L348.6,1425 L351.4,1426.4 L355.6,1416.7 L359.7,1397.2 L362.5,1388.9 L365.3,1411.1 L368.1,1394.4 L370.8,1411.1 L375,1418.1 L377.8,1441.7 L381.9,1451.4 L384.7,1469.4 L386.1,1491.7 L388.9,1508.3 L393.1,1506.9 L395.8,1491.7 L398.9,1490.3 L401.7,1502.8 L405,1498.6 L409.2,1486.1 L412.8,1477.8 L416.1,1473.6 L418.9,1484.7 L421.7,1383.3 L423.9,1333.3 L425.8,1318.1 L427.8,1344.4 L430,1375 L432.8,1369.4 L435.6,1372.2 L438.3,1380.6 L441.1,1394.4 L443.3,1411.1 L446.1,1420.8 L448.1,1447.2 L450.8,1480.6 L452.8,1494.4 L456.4,1497.2 L459.2,1484.7 L461.9,1491.7 L465.6,1490.3 L468.9,1481.9 L472.2,1506.9 L475.8,1505.6 L479.4,1498.6 L482.8,1501.4 L486.1,1516.7 L489.7,1526.4 L493.3,1513.9 L496.7,1500 L500,1493.1 L503.6,1497.2 L507.2,1508.3 L510,1519.4 L513.3,1527.8 L516.1,1525 L518.9,1530.6 L522.2,1554.2 L525.8,1562.5 L530,1544.4 L534.2,1527.8 L538.3,1516.7 L542.5,1505.6 L546.7,1497.2 L550,1486.1 L553.6,1455.6 L557.8,1445.8 L561.9,1443.1 L566.1,1444.4 L568.9,1451.4 L572.2,1476.4 L575.8,1466.7 L578.6,1459.7 L582.2,1457.8 L585.6,1419.4 L588.9,1420 L592.5,1402.8 L596.1,1447.2 L599.4,1450 L605,1463.9 L609.2,1445.8 L613.3,1430.6 L616.1,1419.4 L620.3,1420.8 L623.9,1416.7 L625.8,1419.4 L628.6,1388.9 L631.4,1381.9 L635,1372.2 L638.3,1401.4 L641.7,1390.3 L645.3,1390.3 L648.1,1394.4 L652.2,1386.1 L655.6,1373.6 L659.2,1416.7 L662.8,1466.7 L665.6,1498.6 L668.9,1479.2 L671.7,1484.7 L675,1438.9 L677.8,1411.1 L681.7,1401.4 L685.8,1400.6 L688.6,1411.1 L691.7,1406.9 L695,1423.6 L698.3,1399.4 L701.9,1400 L705.6,1411.1 L708.9,1409.7 L712.2,1390.3 L715.8,1400 L718.6,1405.6 L721.9,1373.6 L725.6,1390.3 L728.9,1393.1 L731.7,1388.9 L735.3,1372.2 L738.6,1381.9 L742.2,1391.7 L745.6,1401.4 L749.2,1402.8 L751.9,1398.6 L755.3,1356.9 L758.3,1356.9 L761.7,1373.6 L765,1373.6 L768.6,1358.3 L772.2,1373.6 L775,1365.3 L778.3,1398.6 L782.5,1407.8 L786.1,1401.4 L789.4,1388.9 L792.8,1379.2 L795.6,1375 L798.3,1363.9 L801.9,1352.8 L804.7,1301.4 L808.3,1316.7 L811.7,1216.7 L814.2,1173.3 L818.3,1165 L821.7,1194.2 L825,1192.5 L828.3,1208.3 L831.7,1196.7 L835,1190 L838.3,1200 L842,1203.3 L843,1150 L844.2,1066.7 L845.8,1051.7 L848.3,1045 L850.8,1048.3 L853.3,1033.3 L857.5,990 L860.8,967.5 L864.2,971.7 L868.3,964.2 L871.7,962.5 L875,948.3 L876.7,950 L924,954" fill="none" stroke="#4d6bfe" stroke-width="3" stroke-linejoin="round" stroke-linecap="round"/>
<circle cx="924" cy="1820" r="79" fill="#10a37f" opacity="0.28"/><circle cx="924" cy="1820" r="47.6" fill="#10a37f"/><g transform="translate(924 1820)"></g>
<circle cx="924" cy="1807.5" r="79" fill="#4285f4" opacity="0.28"/><circle cx="924" cy="1807.5" r="47.6" fill="#4285f4"/><g transform="translate(924 1807.5)"><path d="M0,-29.8 C2.6,-11 11,-2.6 29.5,0 C11,2.6 2.6,11 0,29.8 C-2.6,11 -11,2.6 -29.5,0 C-11,-2.6 -2.6,-11 0,-29.8 Z" fill="#fff"/></g>
<circle cx="918" cy="1510.5" r="39" fill="#b4b4b4" stroke="#5c5c5c" stroke-width="4" stroke-dasharray="4.6 6.75"/>
<g fill="#d6d6d6"><rect x="910.2" y="1520" width="2.4" height="9.5"/><rect x="914.9" y="1520" width="2.6" height="9.5"/></g>
<circle cx="924" cy="1475" r="79" fill="#000000" opacity="0.28"/><circle cx="924" cy="1475" r="47.6" fill="#000000"/><g transform="translate(924 1475)"><g fill="none" stroke="#fff" stroke-width="6.2"><path d="M17.8,-11.1 A21,21 0 0 1 -11.1,17.8"/><path d="M-17.4,11.7 A21,21 0 0 1 10.5,-18.2"/></g><path d="M-32.2,30.3 L-6.8,5.8 L18.5,-11.5 L15,-3.6 L-4.4,10 Z" fill="#fff"/></g>
<circle cx="924" cy="1420" r="79" fill="#ff6b35" opacity="0.28"/><circle cx="924" cy="1420" r="47.6" fill="#ff6b35"/><g transform="translate(924 1420)"><g stroke="#fff" stroke-linecap="round"><path d="M0.0,-4.2 L-12.9,-29.0" stroke-width="7.7"/><path d="M2.3,-4.7 L4.9,-28.4" stroke-width="5.4"/><path d="M4.4,-3.8 L18.6,-21.1" stroke-width="7.8"/><path d="M5.8,-1.4 L28.4,-5.2" stroke-width="5.4"/><path d="M5.8,0.3 L28.1,5.7" stroke-width="5.7"/><path d="M4.7,2.1 L23.4,20.5" stroke-width="3.3"/><path d="M3.7,2.9 L14.7,24.1" stroke-width="4.7"/><path d="M1.5,3.3 L-1.3,28.1" stroke-width="5.4"/><path d="M-0.4,2.6 L-16.4,24.9" stroke-width="4.0"/><path d="M-1.5,1.5 L-22.5,15.1" stroke-width="5.4"/><path d="M-2.1,-0.8 L-30.5,-1.5" stroke-width="4.0"/><path d="M-1.5,-2.9 L-24.1,-17.5" stroke-width="6.1"/></g><circle cx="1.9" cy="-0.7" r="9.6" fill="#fff"/></g>
<circle cx="924" cy="1059" r="79" fill="#8b5cf6" opacity="0.28"/><circle cx="924" cy="1059" r="47.6" fill="#8b5cf6"/><g transform="translate(924 1059)"><path d="M-4.1,-24.2 L24.0,-24.9 L28.8,-17.0 L-7.7,-16.2Z" fill="#fff"/><path d="M-8.0,-32.7 L2.7,-32.7 L6.3,-24.7 L-4.0,-24.3Z" fill="#fff"/><path d="M-27.3,-15.8 L-25.9,-15.5 L-9.2,14.3 L-17.2,14.9 L-22.3,23.1 L-28.3,14.3 L-24.1,6.0 L-32.1,-8.3Z" fill="#fff"/><path d="M18.7,-1.1 L22.5,6.3 L31.5,6.3 L26.3,15.8 L18.1,15.8 L9.5,30.7 L0.9,30.7Z" fill="#fff"/><path d="M-10.1,-5.1 L11.8,-5.1 L0.5,13.1Z" fill="#fff"/><g fill="none" stroke="#fff" stroke-width=".7" opacity=".85"><path d="M-8,-32.7 L-17.3,-17.4 L-27.3,-17.2"/><path d="M28.8,-17 L23,-8.3 L31.5,6.3"/><path d="M-22.3,23.3 L-6,22.3 L-1,30.7"/></g></g>
<circle cx="924" cy="955" r="79" fill="#4d6bfe" opacity="0.28"/><circle cx="924" cy="955" r="47.6" fill="#4d6bfe"/><g transform="translate(924 955)"><path d="M-35.9,-4.4 C-35.7,-8.9 -36.4,-7.4 -34.8,-11.9 C-33.2,-16.3 -34.3,-14.4 -31.1,-17.8 C-27.9,-21.1 -29.6,-19.8 -25.2,-21.9 C-20.7,-24.0 -23.2,-23.3 -17.8,-24.1 C-12.3,-24.8 -13.8,-23.5 -8.9,-24.1 C-4.0,-24.7 -6.2,-25.4 -3.0,-25.9 C0.2,-26.4 -0.9,-26.0 0.7,-25.6 C2.3,-25.1 2.0,-25.6 1.9,-24.4 C1.7,-23.3 0.7,-23.7 0.4,-22.2 C-0.0,-20.7 -1.1,-22.2 0.7,-20.0 C2.6,-17.8 2.2,-18.8 5.9,-15.6 C9.6,-12.3 8.4,-13.1 11.9,-10.4 C15.3,-7.7 14.3,-7.8 16.3,-7.4 C18.3,-7.0 18.0,-7.5 17.8,-9.3 C17.5,-11.0 17.2,-10.2 15.6,-12.6 C14.0,-14.9 14.2,-13.6 13.0,-16.3 C11.7,-19.0 12.1,-17.8 11.9,-20.7 C11.6,-23.7 11.5,-23.2 12.2,-25.2 C13.0,-27.2 13.0,-26.7 14.1,-26.8 C15.2,-26.9 14.6,-27.0 15.6,-25.6 C16.5,-24.1 15.6,-24.4 17.0,-22.6 C18.5,-20.7 18.1,-21.6 20.0,-20.0 C21.9,-18.4 21.1,-18.4 22.6,-17.8 C24.1,-17.2 22.3,-17.5 24.4,-18.1 C26.5,-18.8 26.0,-18.4 28.9,-19.6 C31.7,-20.9 30.9,-20.9 33.0,-21.9 C35.1,-22.8 34.2,-23.0 35.2,-22.6 C36.2,-22.2 35.9,-22.6 35.9,-20.7 C35.9,-18.9 36.2,-19.6 35.2,-17.0 C34.2,-14.4 34.8,-15.2 33.0,-13.0 C31.1,-10.7 32.0,-11.6 29.6,-10.4 C27.3,-9.1 27.8,-10.0 25.9,-9.3 C24.1,-8.5 24.6,-9.8 24.1,-8.1 C23.6,-6.5 24.6,-7.7 24.4,-4.4 C24.3,-1.2 24.7,-2.5 23.7,1.5 C22.7,5.4 23.2,4.0 21.5,7.4 C19.8,10.9 20.7,9.3 18.5,11.9 C16.3,14.4 14.8,13.5 14.8,15.2 C14.8,16.9 16.4,15.9 18.5,17.0 C20.6,18.1 20.4,17.4 21.1,18.5 C21.9,19.6 21.6,19.5 20.7,20.4 C19.9,21.2 21.5,20.9 18.5,21.1 C15.6,21.4 15.3,21.4 11.9,21.1 C8.4,20.9 10.6,19.8 8.1,20.4 C5.7,21.0 7.7,21.2 4.4,23.0 C1.2,24.7 3.0,24.6 -1.5,25.6 C-5.9,26.5 -4.2,26.2 -8.9,25.9 C-13.6,25.7 -11.1,26.3 -15.6,24.8 C-20.0,23.3 -18.0,24.3 -22.2,21.5 C-26.4,18.6 -24.6,20.5 -28.1,16.3 C-31.7,12.1 -30.5,13.8 -33.0,8.9 C-35.4,4.0 -34.6,5.9 -35.6,1.5 C-36.5,-3.0 -36.2,-0.0 -35.9,-4.4Z" fill="#fff"/><path d="M-31.1,-7.0 C-30.2,-8.8 -30.9,-8.0 -28.1,-8.1 C-25.4,-8.3 -26.9,-8.6 -23.0,-7.4 C-19.0,-6.2 -20.5,-6.9 -16.3,-4.4 C-12.1,-2.0 -14.1,-3.2 -10.4,0.0 C-6.7,3.2 -8.4,1.5 -5.2,5.2 C-2.0,8.9 -3.7,7.4 -0.7,11.1 C2.2,14.8 1.1,13.6 3.7,16.3 C6.3,19.0 6.8,18.1 7.0,19.3 C7.3,20.4 6.8,20.1 4.4,19.6 C2.1,19.1 3.0,19.4 0.0,17.8 C-3.0,16.2 -1.5,16.7 -4.4,14.8 C-7.4,13.0 -6.5,13.3 -8.9,12.2 C-11.2,11.1 -10.2,11.2 -11.5,11.5 C-12.7,11.7 -12.6,11.4 -12.6,13.0 C-12.6,14.6 -11.6,14.7 -11.5,16.3 C-11.4,17.9 -10.9,17.4 -12.2,17.8 C-13.6,18.1 -13.0,18.5 -15.6,17.4 C-18.1,16.3 -17.0,17.0 -20.0,14.4 C-23.0,11.9 -21.7,13.5 -24.4,9.6 C-27.2,5.8 -26.0,7.2 -28.1,3.0 C-30.2,-1.2 -29.8,0.4 -30.7,-3.0 C-31.7,-6.3 -32.0,-5.3 -31.1,-7.0Z" fill="#4d6bfe"/><path d="M1.5,-4.4 C1.9,-5.5 2.0,-5.7 3.7,-5.8 C5.4,-5.9 4.7,-6.2 6.7,-4.8 C8.6,-3.4 7.9,-3.8 9.6,-1.5 C11.4,0.9 11.6,0.5 11.9,2.2 C12.1,4.0 11.9,3.5 10.4,3.7 C8.9,4.0 9.1,4.1 7.4,3.0 C5.7,1.9 6.2,2.1 5.2,0.4 C4.2,-1.4 5.3,-1.2 4.4,-2.2 C3.6,-3.2 3.6,-1.9 2.6,-2.6 C1.6,-3.3 1.1,-3.4 1.5,-4.4Z" fill="#4d6bfe"/></g>
<clipPath id="lc1"><rect x="975" y="1803" width="96" height="30.3"/></clipPath><rect x="975" y="1798" width="96" height="41.5" rx="5" fill="#1ea987" opacity="1"/><g clip-path="url(#lc1)" fill="#fff" stroke="#fff" stroke-width=".45" font-weight="bold" font-size="20.8"><text x="987.6" y="1826.4" textLength="0.0" lengthAdjust="spacingAndGlyphs"></text><text x="987.6" y="1834.4" textLength="11.7" lengthAdjust="spacingAndGlyphs">$</text><text x="999.3" y="1834.4" textLength="11.7" lengthAdjust="spacingAndGlyphs">4</text><text x="1011.0" y="1834.4" textLength="11.7" lengthAdjust="spacingAndGlyphs">,</text><text x="1022.7" y="1834.4" textLength="11.7" lengthAdjust="spacingAndGlyphs">0</text><text x="1034.4" y="1834.4" textLength="11.7" lengthAdjust="spacingAndGlyphs">0</text><text x="1046.1" y="1834.4" textLength="11.7" lengthAdjust="spacingAndGlyphs">9</text></g>
<clipPath id="lc2"><rect x="975" y="1791" width="96" height="30.3"/></clipPath><rect x="975" y="1786" width="96" height="41.5" rx="5" fill="#4d8cf5" opacity="1"/><g clip-path="url(#lc2)" fill="#fff" stroke="#fff" stroke-width=".45" font-weight="bold" font-size="20.8"><text x="987.6" y="1814.4" textLength="58.5" lengthAdjust="spacingAndGlyphs">$4,46</text><text x="1046.1" y="1818.4" textLength="11.7" lengthAdjust="spacingAndGlyphs">3</text></g>
<clipPath id="lc3"><rect x="975" y="1459.3" width="96" height="30.3"/></clipPath><rect x="975" y="1454.3" width="96" height="41.5" rx="5" fill="#0b0b0b" opacity="1"/><g clip-path="url(#lc3)" fill="#fff" stroke="#fff" stroke-width=".45" font-weight="bold" font-size="20.8"><text x="981.8" y="1482.7" textLength="58.5" lengthAdjust="spacingAndGlyphs">$11,6</text><text x="1040.2" y="1486.7" textLength="11.7" lengthAdjust="spacingAndGlyphs">2</text><text x="1052.0" y="1490.5" textLength="11.7" lengthAdjust="spacingAndGlyphs">4</text><text x="1052.0" y="1465.9" textLength="11.7" lengthAdjust="spacingAndGlyphs">3</text></g>
<clipPath id="lc4"><rect x="975" y="1404.2" width="96" height="30.3"/></clipPath><rect x="975" y="1399.2" width="96" height="41.5" rx="5" fill="#ff7441" opacity="1"/><g clip-path="url(#lc4)" fill="#fff" stroke="#fff" stroke-width=".45" font-weight="bold" font-size="20.8"><text x="981.8" y="1427.6" textLength="58.5" lengthAdjust="spacingAndGlyphs">$12,8</text><text x="1040.2" y="1431.6" textLength="11.7" lengthAdjust="spacingAndGlyphs">2</text><text x="1052.0" y="1423.1" textLength="11.7" lengthAdjust="spacingAndGlyphs">7</text></g>
<clipPath id="lc5"><rect x="975" y="1043" width="96" height="30.3"/></clipPath><rect x="975" y="1038" width="96" height="41.5" rx="5" fill="#9266f7" opacity="1"/><g clip-path="url(#lc5)" fill="#fff" stroke="#fff" stroke-width=".45" font-weight="bold" font-size="20.8"><text x="981.8" y="1066.4" textLength="58.5" lengthAdjust="spacingAndGlyphs">$20,6</text><text x="1040.2" y="1069.4" textLength="11.7" lengthAdjust="spacingAndGlyphs">4</text><text x="1052.0" y="1076.4" textLength="11.7" lengthAdjust="spacingAndGlyphs">1</text><text x="1052.0" y="1051.9" textLength="11.7" lengthAdjust="spacingAndGlyphs">0</text></g>
<clipPath id="lc6"><rect x="975" y="939.2" width="96" height="30.3"/></clipPath><rect x="975" y="934.2" width="96" height="41.5" rx="5" fill="#5874fe" opacity="1"/><g clip-path="url(#lc6)" fill="#fff" stroke="#fff" stroke-width=".45" font-weight="bold" font-size="20.8"><text x="981.8" y="962.6" textLength="58.5" lengthAdjust="spacingAndGlyphs">$22,9</text><text x="1040.2" y="965.1" textLength="11.7" lengthAdjust="spacingAndGlyphs">8</text><text x="1052.0" y="969.6" textLength="11.7" lengthAdjust="spacingAndGlyphs">9</text><text x="1052.0" y="945.1" textLength="11.7" lengthAdjust="spacingAndGlyphs">8</text></g>
<rect x="422" y="2072" width="236" height="64" fill="#000"/>
<rect x="543" y="2078" width="109" height="52" fill="#fff"/>
<text x="481.5" y="2115.5" font-size="33" fill="#fff" text-anchor="middle" textLength="60" lengthAdjust="spacing">ALL</text>
<text x="597" y="2115.5" font-size="33" fill="#000" text-anchor="middle" textLength="60" lengthAdjust="spacing">72H</text>
</svg>
<div class="abs" style="left:0;top:2148px;width:1080px;height:9px;background:#000"></div>
<div class="t mono" style="left:0;width:1080px;text-align:center;top:2188.7px;font-size:30.3px;font-weight:bold;color:#000;letter-spacing:-.5px">DETAILED VIEW</div>
<div class="abs" style="left:0;top:2279.5px;width:1080px;height:1.5px;background:#dcdce0"></div>
</body>
</html>
